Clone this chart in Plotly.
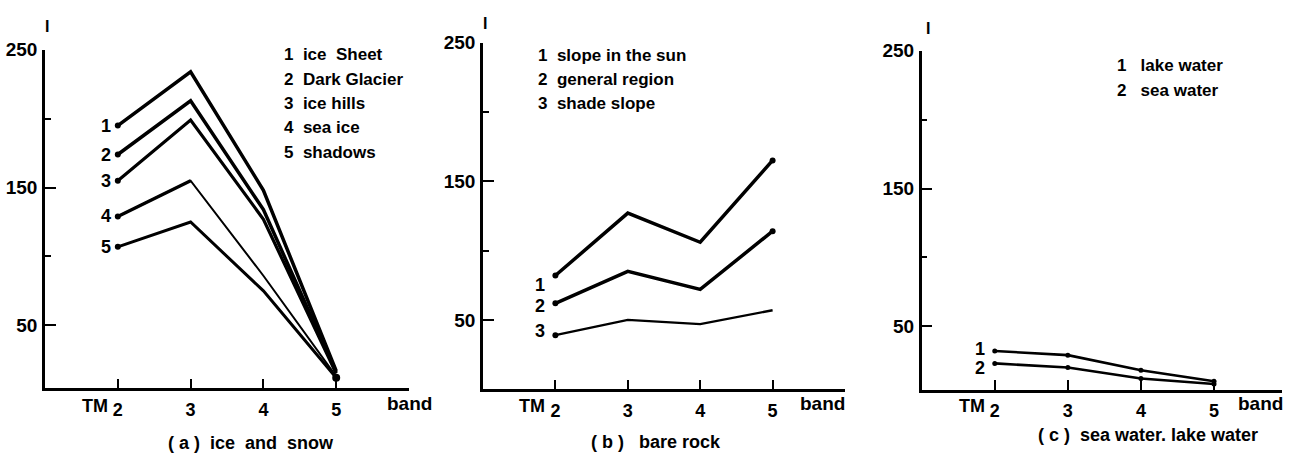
import plotly.graph_objects as go

W, H = 1289, 459

# ---------------- data ----------------
bands = [2, 3, 4, 5]
band_tick_vals = [2, 3, 4, 5, 6]
band_tick_text = ["2", "3", "4", "5", ""]
y_tick_vals = [50, 150, 250]
y_tick_text = ["50", "150", "250"]
y_minor_vals = [100, 200]

# (a) ice and snow
ice_sheet = [195, 234, 148, 17]
dark_glacier = [174, 213, 134, 16]
ice_hills = [155, 199, 127, 15]
sea_ice = [129, 155, 86, 13]
shadows = [107, 125, 75, 12]
names_a = ["ice  Sheet", "Dark Glacier", "ice hills", "sea ice", "shadows"]

# (b) bare rock
slope_sun = [82, 127, 106, 165]
general_region = [62, 85, 72, 114]
shade_slope = [39, 50, 47, 57]
names_b = ["slope in the sun", "general region", "shade slope"]

# (c) sea water, lake water
lake_water = [32, 29, 18, 10]
sea_water = [23, 20, 12, 8]
names_c = ["lake water", "sea water"]

captions = ["( a )  ice  and  snow", "( b )   bare rock", "( c )  sea water. lake water"]

# ---------------- helpers ----------------
def px(x):
    return x / W

def py(y):
    return 1 - y / H

FONT = "Liberation Sans"
FW = "bold"
BLACK = "#000000"

fig = go.Figure()

series_a = [ice_sheet, dark_glacier, ice_hills, sea_ice, shadows]
series_b = [slope_sun, general_region, shade_slope]
series_c = [lake_water, sea_water]

widths_a = [3.5, 3.5, 3.2, 2.0, 3.0]
for i, s in enumerate(series_a):
    fig.add_trace(go.Scatter(x=bands, y=s, mode="lines", xaxis="x", yaxis="y",
                             line=dict(color=BLACK, width=widths_a[i]),
                             showlegend=False, hoverinfo="skip"))
# sea ice: thick first segment
fig.add_trace(go.Scatter(x=bands[:2], y=sea_ice[:2], mode="lines", xaxis="x", yaxis="y",
                         line=dict(color=BLACK, width=3.3), showlegend=False, hoverinfo="skip"))
# start / end dots
fig.add_trace(go.Scatter(x=[bands[0]] * len(series_a), y=[s[0] for s in series_a], mode="markers",
                         xaxis="x", yaxis="y", marker=dict(color=BLACK, size=6),
                         showlegend=False, hoverinfo="skip"))
fig.add_trace(go.Scatter(x=[bands[-1]], y=[shadows[-1]], mode="markers",
                         xaxis="x", yaxis="y", marker=dict(color=BLACK, size=8),
                         showlegend=False, hoverinfo="skip"))

widths_b = [3.5, 3.5, 2.4]
for i, s in enumerate(series_b):
    fig.add_trace(go.Scatter(x=bands, y=s, mode="lines", xaxis="x2", yaxis="y2",
                             line=dict(color=BLACK, width=widths_b[i]),
                             showlegend=False, hoverinfo="skip"))
fig.add_trace(go.Scatter(x=[bands[0]] * 3 + [bands[-1]] * 2,
                         y=[s[0] for s in series_b] + [slope_sun[-1], general_region[-1]],
                         mode="markers", xaxis="x2", yaxis="y2",
                         marker=dict(color=BLACK, size=6), showlegend=False, hoverinfo="skip"))

for s in series_c:
    fig.add_trace(go.Scatter(x=bands, y=s, mode="lines+markers", xaxis="x3", yaxis="y3",
                             line=dict(color=BLACK, width=2.6),
                             marker=dict(color=BLACK, size=5),
                             showlegend=False, hoverinfo="skip"))

# ---------------- axes ----------------
def font(size):
    return dict(family=FONT, size=size, color=BLACK, weight=FW)

def xaxis(domain, rng):
    return dict(domain=domain, range=rng, showgrid=False, zeroline=False,
                showline=True, linecolor=BLACK, linewidth=2.5,
                tickmode="array", tickvals=band_tick_vals, ticktext=band_tick_text,
                ticks="inside", ticklen=10, tickwidth=2, tickcolor=BLACK,
                ticklabelstandoff=3,
                tickfont=font(18), fixedrange=True)

def yaxis(domain, rng, anchor):
    return dict(domain=domain, range=rng, anchor=anchor, showgrid=False, zeroline=False,
                showline=True, linecolor=BLACK, linewidth=2.5,
                tickmode="array", tickvals=y_tick_vals, ticktext=y_tick_text,
                ticks="inside", ticklen=11, tickwidth=2, tickcolor=BLACK,
                ticklabelstandoff=1,
                minor=dict(tickmode="array", tickvals=y_minor_vals, ticks="inside",
                           ticklen=6, tickwidth=2, tickcolor=BLACK, showgrid=False),
                tickfont=font(19), fixedrange=True)

fig.update_layout(
    width=W, height=H,
    margin=dict(l=0, r=0, t=0, b=0),
    paper_bgcolor="white", plot_bgcolor="white",
    xaxis=dict(xaxis([px(45), px(409)], [1, 6]), anchor="y"),
    yaxis=yaxis([py(386.7), py(40.7)], [4.3, 250], "x"),
    xaxis2=dict(xaxis([px(483), px(845)], [1, 6]), anchor="y2"),
    yaxis2=yaxis([py(387.7), py(33.3)], [0, 250], "x2"),
    xaxis3=dict(xaxis([px(921.7), px(1282)], [1, 5.93]), anchor="y3"),
    yaxis3=yaxis([py(388.3), py(41.7)], [3.8, 250], "x3"),
    showlegend=False,
)

ann = []
def text(x, y, t, size, xanchor="center", xref="paper", yref="paper", xshift=0, yshift=0):
    ann.append(dict(x=x, y=y, text=t, xref=xref, yref=yref, xanchor=xanchor, yanchor="middle",
                    showarrow=False, xshift=xshift, yshift=yshift, font=font(size)))

# "I" axis labels and "band" labels, "TM" prefixes
for xi, yi in [(47, 17), (485, 14), (928, 19)]:
    text(px(xi), py(yi), "I", 16)
for xi in [409, 822, 1260]:
    text(px(xi), py(402), "band", 19)
for xr in ["x", "x2", "x3"]:
    ann.append(dict(x=bands[0], y=py(405), xref=xr, yref="paper", yanchor="middle",
                    xanchor="right", xshift=-8, showarrow=False, text="TM", font=font(18)))

# captions
for (xi, yi), c in zip([(251, 443), (656, 442), (1148, 434)], captions):
    text(px(xi), py(yi), c, 18)

# legends
for i, n in enumerate(names_a):
    text(px(282), py(46 + i * 24.8), f"{i + 1}  {n}", 17, xanchor="left")
for i, n in enumerate(names_b):
    text(px(536), py(47 + i * 24.5), f"{i + 1}  {n}", 17, xanchor="left")
for i, n in enumerate(names_c):
    text(px(1115), py(57 + i * 25), f"{i + 1}   {n}", 17, xanchor="left")

# series number labels near first points
for i, s in enumerate(series_a):
    text(bands[0], s[0], str(i + 1), 18, xanchor="right", xref="x", yref="y", xshift=-5)
for i, (s, ys) in enumerate(zip(series_b, [-9, -3, 4])):
    text(bands[0], s[0], str(i + 1), 18, xanchor="right", xref="x2", yref="y2", xshift=-8, yshift=ys)
for i, (s, ys) in enumerate(zip(series_c, [2, -5])):
    text(bands[0], s[0], str(i + 1), 18, xanchor="right", xref="x3", yref="y3", xshift=-8, yshift=ys)

fig.update_layout(annotations=ann)
fig.write_html("out.html")
